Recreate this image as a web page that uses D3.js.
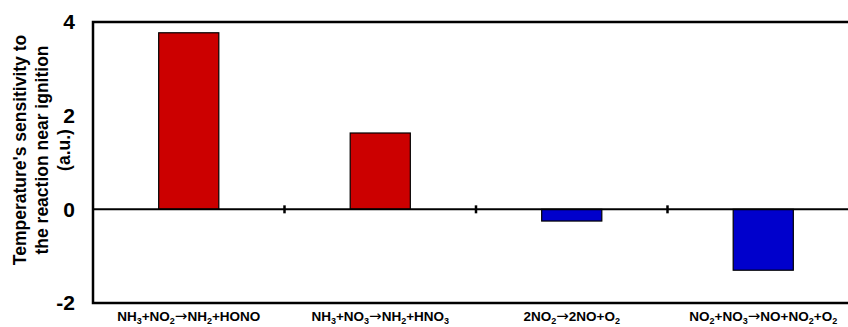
<!DOCTYPE html>
<html>
<head>
<meta charset="utf-8">
<script src="https://cdn.jsdelivr.net/npm/d3@7"></script>
<style>
  body { margin: 0; background: #fff; }
  text { font-family: "Liberation Sans", Arial, sans-serif; font-weight: bold; }
</style>
</head>
<body>
<svg id="chart"></svg>
<script>
// reactions, written as pieces: [text, kind] kind 0 = normal, 1 = subscript, 2 = arrow
var reactions = [
  [["NH", 0], ["3", 1], ["+NO", 0], ["2", 1], ["\u2192", 2], ["NH", 0], ["2", 1], ["+HONO", 0]],
  [["NH", 0], ["3", 1], ["+NO", 0], ["3", 1], ["\u2192", 2], ["NH", 0], ["2", 1], ["+HNO", 0], ["3", 1]],
  [["2NO", 0], ["2", 1], ["\u2192", 2], ["2NO+O", 0], ["2", 1]],
  [["NO", 0], ["2", 1], ["+NO", 0], ["3", 1], ["\u2192", 2], ["NO+NO", 0], ["2", 1], ["+O", 0], ["2", 1]]
];
var sensitivity = [3.77, 1.63, -0.25, -1.30];
var yTicks = [-2, 0, 2, 4];
var yTitle = ["Temperature's sensitivity to", "the reaction near ignition", "(a.u.)"];

var width = 848;
var height = 327;
var margin = {top: 22, left: 93, bottom: 24};
var plotRight = 859;

var svg = d3.select("#chart")
    .attr("width", width)
    .attr("height", height);

var x = d3.scaleBand()
    .domain(d3.range(sensitivity.length))
    .range([margin.left, plotRight])
    .paddingInner(0.686)
    .paddingOuter(0.343);

var y = d3.scaleLinear()
    .domain([-2, 4])
    .range([height - margin.bottom, margin.top]);

// bars
svg.selectAll("rect.bar")
    .data(sensitivity)
    .enter()
    .append("rect")
    .attr("class", "bar")
    .attr("x", function(d, i) { return x(i); })
    .attr("width", x.bandwidth())
    .attr("y", function(d) { return y(Math.max(0, d)); })
    .attr("height", function(d) { return Math.abs(y(d) - y(0)); })
    .attr("fill", function(d) { return d > 0 ? "#cc0000" : "#0000cc"; })
    .attr("stroke", "#000")
    .attr("stroke-width", 1.2);

// frame
svg.append("rect")
    .attr("x", margin.left)
    .attr("y", margin.top)
    .attr("width", plotRight - margin.left)
    .attr("height", y(-2) - y(4))
    .attr("fill", "none")
    .attr("stroke", "#000")
    .attr("stroke-width", 2.5);

// zero line with category separators
var xAxis = svg.append("g")
    .attr("transform", "translate(0," + y(0) + ")");
xAxis.append("line")
    .attr("x1", margin.left)
    .attr("x2", plotRight)
    .attr("stroke", "#000")
    .attr("stroke-width", 2);
xAxis.selectAll("line.sep")
    .data(d3.range(1, sensitivity.length))
    .enter()
    .append("line")
    .attr("class", "sep")
    .attr("x1", function(i) { return x(i) - x.step() * 0.343; })
    .attr("x2", function(i) { return x(i) - x.step() * 0.343; })
    .attr("y1", -4)
    .attr("y2", 4)
    .attr("stroke", "#000")
    .attr("stroke-width", 2.5);

// y tick labels
var yAxis = d3.axisLeft(y)
    .tickValues(yTicks)
    .tickSize(0)
    .tickPadding(18)
    .tickFormat(function(d) { return String(d); });
var gy = svg.append("g")
    .attr("transform", "translate(" + margin.left + ",0)")
    .call(yAxis);
gy.select(".domain").remove();
gy.selectAll("text")
    .style("font-size", "21px")
    .style("font-family", "Liberation Sans, Arial, sans-serif")
    .style("font-weight", "bold")
    .attr("fill", "#000");

// category labels
var labels = svg.selectAll("text.cat")
    .data(reactions)
    .enter()
    .append("text")
    .attr("class", "cat")
    .attr("x", function(d, i) { return x(i) + x.bandwidth() / 2; })
    .attr("y", 321)
    .attr("text-anchor", "middle")
    .style("font-size", "13.5px");
labels.each(function(parts) {
    var t = d3.select(this);
    var prevSub = false;
    parts.forEach(function(p) {
        var sub = p[1] == 1;
        var dy = 0;
        if (sub && !prevSub) dy = 3;
        if (!sub && prevSub) dy = -3;
        var ts = t.append("tspan")
            .attr("dy", dy)
            .style("font-size", sub ? "9px" : "13.5px")
            .text(p[0]);
        if (p[1] == 2) {
            ts.style("font-family", "DejaVu Sans")
              .style("font-weight", "normal")
              .style("font-size", "15px");
        }
        prevSub = sub;
    });
});

// y title
var title = svg.append("text")
    .attr("transform", "translate(26,150) rotate(-90)")
    .attr("text-anchor", "middle")
    .style("font-size", "17.5px");
yTitle.forEach(function(line, i) {
    title.append("tspan")
        .attr("x", 0)
        .attr("dy", i == 0 ? 0 : 22)
        .text(line);
});
</script>
</body>
</html>
